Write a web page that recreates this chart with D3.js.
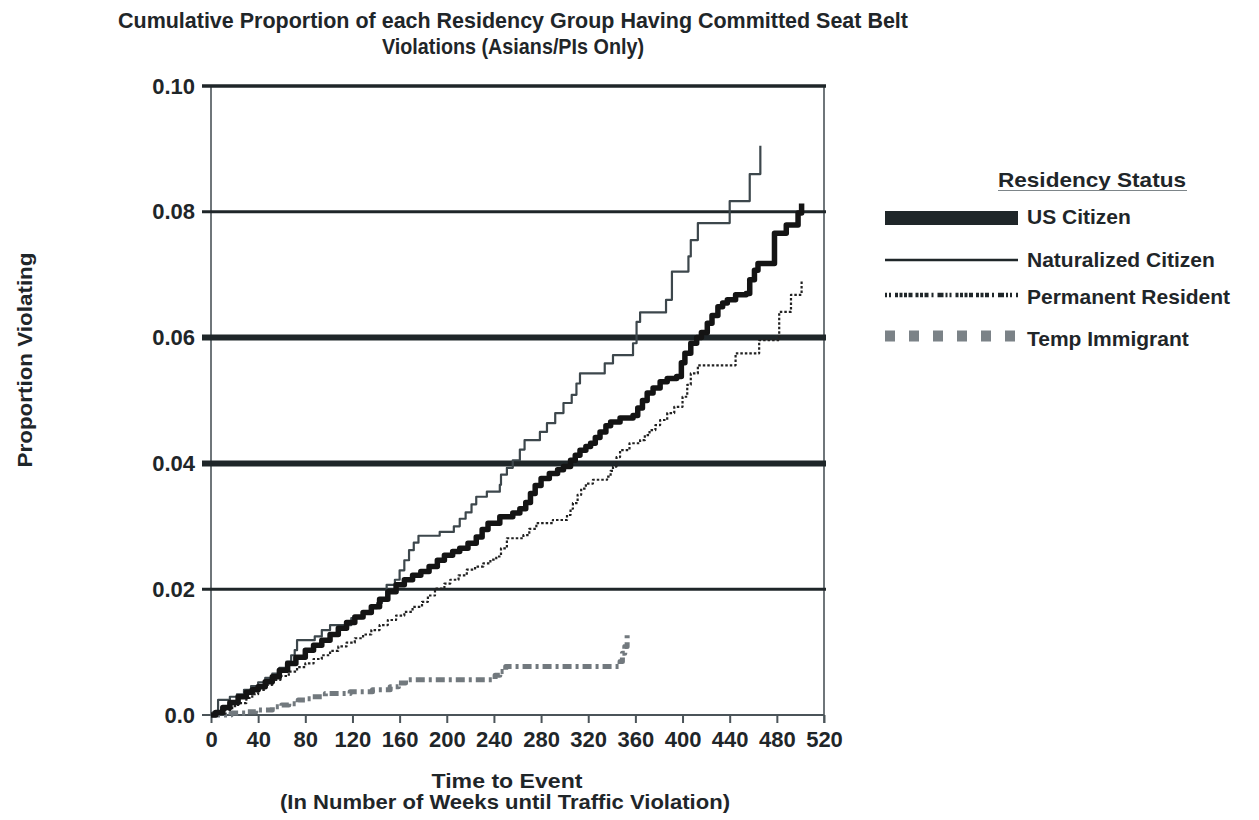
<!DOCTYPE html>
<html>
<head>
<meta charset="utf-8">
<script src="https://cdn.jsdelivr.net/npm/d3@7"></script>
<style>
  html, body { margin: 0; padding: 0; background: #ffffff; }
  svg { display: block; font-family: "Liberation Sans", Arial, sans-serif; font-weight: bold; }
</style>
</head>
<body>
<svg id="chart" width="1259" height="820"></svg>
<script>
// Cumulative proportion violating, by week, for each residency group (step points)
const usWeeks = [0,4,10,16,23,30,35,40,46,52,58,65,72,80,87,94,101,108,115,122,129,136,143,150,157,164,171,178,185,192,198,205,211,218,225,230,235,245,256,262,267,271,275,280,287,294,299,305,309,313,318,322,326,330,335,339,347,358,362,366,370,375,381,387,395,399,402,407,412,416,421,425,430,434,438,445,454,457,461,464,478,488,498,501];
const usProp  = [0,0.0004,0.0012,0.0020,0.0029,0.0036,0.0040,0.0045,0.0053,0.0061,0.0071,0.0082,0.0092,0.0103,0.0111,0.0119,0.0128,0.0138,0.0147,0.0156,0.0163,0.0172,0.0184,0.0196,0.0207,0.0215,0.0222,0.0228,0.0236,0.0246,0.0254,0.0260,0.0265,0.0273,0.0283,0.0295,0.0305,0.0315,0.0321,0.0328,0.0338,0.0352,0.0365,0.0376,0.0384,0.0390,0.0395,0.0405,0.0413,0.0421,0.0427,0.0432,0.0441,0.0450,0.0460,0.0466,0.0472,0.0476,0.0488,0.0500,0.0512,0.0520,0.0530,0.0535,0.0538,0.0560,0.0575,0.0591,0.0600,0.0608,0.0623,0.0635,0.0649,0.0655,0.0660,0.0668,0.0670,0.0692,0.0707,0.0718,0.0766,0.0779,0.0798,0.0813];

const natWeeks = [0,2,6,16,22,28,34,40,46,52,58,64,68,71,73,88,94,101,119,128,136,141,145,149,156,160,164,168,172,176,194,206,211,216,221,225,234,245,246,251,256,262,266,279,285,292,299,306,310,313,334,341,358,361,364,386,391,405,407,413,440,457,466];
const natProp  = [0,0.0005,0.0024,0.0029,0.0033,0.0040,0.0046,0.0052,0.0059,0.0066,0.0075,0.0085,0.0095,0.0103,0.0119,0.0125,0.0135,0.0143,0.0154,0.0164,0.0170,0.0178,0.0183,0.0207,0.0215,0.0230,0.0246,0.0262,0.0274,0.0285,0.0291,0.0300,0.0312,0.0322,0.0335,0.0347,0.0355,0.0366,0.0382,0.0393,0.0405,0.0422,0.0437,0.0450,0.0464,0.0480,0.0496,0.0509,0.0527,0.0543,0.0559,0.0572,0.0591,0.0625,0.0640,0.0660,0.0705,0.0729,0.0755,0.0782,0.0817,0.0860,0.0905];

const permWeeks = [0,6,12,18,23,30,35,40,46,52,59,66,73,80,87,94,101,108,115,122,129,136,143,150,157,164,171,179,184,190,198,203,210,217,224,231,237,242,246,251,265,270,276,290,302,305,307,311,314,318,324,336,339,341,344,347,355,364,368,372,377,381,387,393,400,404,407,413,445,465,482,492,501];
const permProp  = [0,0.0002,0.0008,0.0014,0.0019,0.0027,0.0033,0.0040,0.0048,0.0056,0.0062,0.0069,0.0076,0.0082,0.0089,0.0095,0.0102,0.0109,0.0115,0.0122,0.0128,0.0135,0.0143,0.0151,0.0158,0.0164,0.0172,0.0180,0.0190,0.0201,0.0209,0.0215,0.0222,0.0231,0.0236,0.0241,0.0247,0.0252,0.0265,0.0281,0.0286,0.0296,0.0305,0.0310,0.0318,0.0328,0.0337,0.0350,0.0360,0.0368,0.0374,0.0379,0.0388,0.0395,0.0410,0.0421,0.0432,0.0437,0.0445,0.0453,0.0461,0.0469,0.0480,0.0490,0.0506,0.0525,0.0543,0.0556,0.0575,0.0596,0.0641,0.0668,0.0692];

const tempWeeks = [0,17,30,38,52,60,66,74,80,86,97,118,137,152,159,165,241,245,250,347,349,351,353];
const tempProp  = [0,0.0003,0.0005,0.0008,0.0013,0.0016,0.0018,0.0024,0.0026,0.0029,0.0034,0.0037,0.0040,0.0045,0.0051,0.0056,0.0063,0.0069,0.0077,0.0085,0.0098,0.0109,0.0130];

const seriesNames = ["US Citizen", "Naturalized Citizen", "Permanent Resident", "Temp Immigrant"];
const xTicks = [0,40,80,120,160,200,240,280,320,360,400,440,480,520];
const yTicks = [0,0.02,0.04,0.06,0.08,0.10];
const yTickLabels = ["0.0","0.02","0.04","0.06","0.08","0.10"];

// ---- layout & styles ----
const ink = "#1f2629";
const frameGrey = "#4b5459";
const plot = { left: 211, right: 824, top: 86, bottom: 715 };
const gridWidth = { 0.02: 3, 0.04: 6, 0.06: 6, 0.08: 3, 0.10: 3.5 };

const svg = d3.select("#chart");
const x = d3.scaleLinear().domain([0, 520]).range([plot.left, plot.right]);
const y = d3.scaleLinear().domain([0, 0.10]).range([plot.bottom, plot.top]);

// Title
const title = svg.append("g").attr("fill", ink).attr("text-anchor", "middle").style("font-size", "22px");
title.append("text").attr("x", 513).attr("y", 28)
  .attr("textLength", 790).attr("lengthAdjust", "spacingAndGlyphs")
  .text("Cumulative Proportion of each Residency Group Having Committed Seat Belt");
title.append("text").attr("x", 513).attr("y", 54)
  .attr("textLength", 262).attr("lengthAdjust", "spacingAndGlyphs")
  .text("Violations (Asians/PIs Only)");

// Frame sides
svg.append("line").attr("x1", plot.left).attr("x2", plot.left).attr("y1", plot.top).attr("y2", plot.bottom)
  .attr("stroke", frameGrey).attr("stroke-width", 1.6);
svg.append("line").attr("x1", plot.right).attr("x2", plot.right).attr("y1", plot.top).attr("y2", plot.bottom + 8)
  .attr("stroke", frameGrey).attr("stroke-width", 1.6);

// Horizontal reference lines
svg.append("g").selectAll("line").data(yTicks.filter(d => d > 0)).join("line")
  .attr("x1", plot.left - 9).attr("x2", plot.right + 2)
  .attr("y1", d => y(d)).attr("y2", d => y(d))
  .attr("stroke", ink).attr("stroke-width", d => gridWidth[d]);

// X axis
const xAxis = svg.append("g").attr("transform", `translate(0,${plot.bottom})`)
  .call(d3.axisBottom(x).tickValues(xTicks).tickSize(8).tickSizeOuter(0).tickPadding(8).tickFormat(d => String(d)));
xAxis.select(".domain").attr("stroke", frameGrey).attr("stroke-width", 2.2)
  .attr("d", `M${plot.left - 9},0H${plot.right}`);
xAxis.selectAll(".tick line").attr("stroke", frameGrey).attr("stroke-width", 2);
xAxis.selectAll(".tick text").attr("fill", ink).style("font-size", "22px").style("font-weight", "bold")
  .attr("font-family", null);

// Y axis labels
const yAxis = svg.append("g").attr("transform", `translate(${plot.left},0)`)
  .call(d3.axisLeft(y).tickValues(yTicks).tickSize(0).tickPadding(16)
    .tickFormat((d, i) => yTickLabels[i]));
yAxis.select(".domain").remove();
yAxis.selectAll(".tick text").attr("fill", ink).style("font-size", "22px").style("font-weight", "bold")
  .attr("font-family", null);

// Axis titles
svg.append("text").attr("transform", "translate(32,360) rotate(-90)")
  .attr("text-anchor", "middle").attr("fill", ink).style("font-size", "20px")
  .attr("textLength", 215).attr("lengthAdjust", "spacingAndGlyphs")
  .text("Proportion Violating");
svg.append("text").attr("x", 507).attr("y", 788).attr("text-anchor", "middle").attr("fill", ink)
  .style("font-size", "21px").attr("textLength", 151).attr("lengthAdjust", "spacingAndGlyphs")
  .text("Time to Event");
svg.append("text").attr("x", 505).attr("y", 809).attr("text-anchor", "middle").attr("fill", ink)
  .style("font-size", "21px").attr("textLength", 450).attr("lengthAdjust", "spacingAndGlyphs")
  .text("(In Number of Weeks until Traffic Violation)");

// Series
const seriesStyles = [
  { stroke: "#141414", width: 5.5, dash: null },
  { stroke: "#3d474c", width: 2.2, dash: null },
  { stroke: "#222222", width: 2.2, dash: "2.5,2" },
  { stroke: "#72797e", width: 5, dash: "9,4,3,4" }
];
const seriesData = [
  usWeeks.map((w, i) => [w, usProp[i]]),
  natWeeks.map((w, i) => [w, natProp[i]]),
  permWeeks.map((w, i) => [w, permProp[i]]),
  tempWeeks.map((w, i) => [w, tempProp[i]])
];
const line = d3.line().x(d => x(d[0])).y(d => y(d[1])).curve(d3.curveStepAfter);
const drawOrder = [3, 2, 1, 0];
svg.append("g").selectAll("path").data(drawOrder).join("path")
  .attr("d", k => line(seriesData[k]))
  .attr("fill", "none")
  .attr("stroke", k => seriesStyles[k].stroke)
  .attr("stroke-width", k => seriesStyles[k].width)
  .attr("stroke-dasharray", k => seriesStyles[k].dash)
  .attr("stroke-linejoin", "round");

// Legend
const lg = svg.append("g").attr("fill", ink).style("font-size", "21px");
lg.append("text").attr("x", 998).attr("y", 187).attr("textLength", 188).attr("lengthAdjust", "spacingAndGlyphs")
  .text("Residency Status");
lg.append("line").attr("x1", 998).attr("x2", 1187).attr("y1", 190.5).attr("y2", 190.5)
  .attr("stroke", "#7d8589").attr("stroke-width", 1.2);

const rowY = [218, 260, 295, 336];
const rowText = [224, 267, 304, 346];
const lx0 = 885, lx1 = 1018;
// US citizen: solid bar
lg.append("rect").attr("x", lx0).attr("y", rowY[0] - 7).attr("width", lx1 - lx0).attr("height", 14).attr("fill", "#1f2629");
// Naturalized: thin line
lg.append("line").attr("x1", lx0).attr("x2", lx1).attr("y1", rowY[1]).attr("y2", rowY[1])
  .attr("stroke", "#1f2629").attr("stroke-width", 2.6);
// Permanent resident: fine broken line
lg.append("line").attr("x1", lx0).attr("x2", lx1).attr("y1", rowY[2]).attr("y2", rowY[2])
  .attr("stroke", "#1f2629").attr("stroke-width", 4.5)
  .attr("stroke-dasharray", "2,2,2,4,3,1.5,3,1.5,3,1.5,4,3,3,1.5,3,1.5,4,3,2,4,6,2");
// Temp immigrant: grey squares
lg.append("line").attr("x1", lx0).attr("x2", lx1).attr("y1", rowY[3]).attr("y2", rowY[3])
  .attr("stroke", "#7b8287").attr("stroke-width", 11)
  .attr("stroke-dasharray", "10,14");

lg.selectAll("text.item").data(seriesNames).join("text").attr("class", "item")
  .attr("x", 1027).attr("y", (d, i) => rowText[i]).text(d => d);
</script>
</body>
</html>
